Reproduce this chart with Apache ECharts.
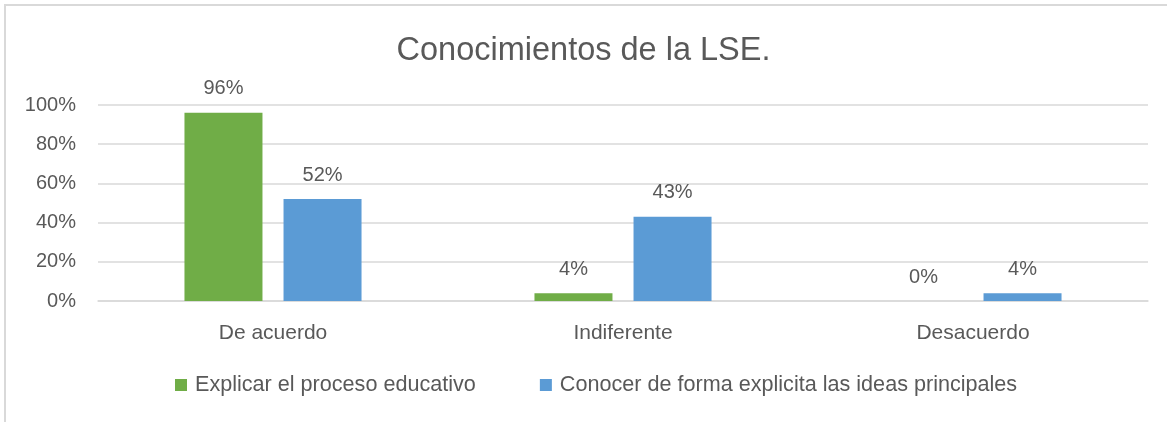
<!DOCTYPE html>
<html>
<head>
<meta charset="utf-8">
<script src="https://cdn.jsdelivr.net/npm/echarts@6/dist/echarts.min.js"></script>
<style>
  html, body { margin: 0; padding: 0; background: #fff; overflow: hidden; }
  #chart { width: 1167px; height: 422px; }
</style>
</head>
<body>
<div id="chart"></div>
<script>
var categories = ['De acuerdo', 'Indiferente', 'Desacuerdo']
var seriesNames = ['Explicar el proceso educativo', 'Conocer de forma explicita las ideas principales']
var explicar = [96, 4, 0]
var conocer = [52, 43, 4]
var yTicks = [0, 20, 40, 60, 80, 100]

var textColor = '#595959'
var fontFamily = 'Liberation Sans, Arial, sans-serif'

var chart = echarts.init(document.getElementById('chart'))

var option = {
  animation: false,
  textStyle: { fontFamily: fontFamily, color: textColor },
  title: {
    text: 'Conocimientos de la LSE.',
    left: 'center',
    top: 30,
    textStyle: { fontSize: 32.5, fontWeight: 'normal', color: textColor, fontFamily: fontFamily }
  },
  graphic: [
    {
      type: 'rect',
      shape: { x: 5, y: 5, width: 1300, height: 600 },
      style: { fill: 'none', stroke: '#d9d9d9', lineWidth: 2 },
      silent: true
    }
  ],
  legend: {
    data: seriesNames,
    top: 369,
    left: 170,
    icon: 'rect',
    itemWidth: 12,
    itemHeight: 12,
    itemGap: 64,
    textStyle: { fontSize: 21.6, color: textColor, fontFamily: fontFamily, padding: [0, 0, 0, 3] }
  },
  grid: { left: 98, right: 19, top: 105, bottom: 121 },
  xAxis: {
    type: 'category',
    data: categories,
    axisLine: { show: true, lineStyle: { color: '#d9d9d9', width: 1.5 } },
    axisTick: { show: false },
    axisLabel: { fontSize: 21, color: textColor, margin: 22, fontFamily: fontFamily }
  },
  yAxis: {
    type: 'value',
    min: yTicks[0],
    max: yTicks[yTicks.length - 1],
    interval: 20,
    axisLine: { show: false },
    axisTick: { show: false },
    splitLine: { lineStyle: { color: '#d9d9d9', width: 1.5 } },
    axisLabel: { fontSize: 20, color: textColor, margin: 22, formatter: '{value}%', fontFamily: fontFamily }
  },
  series: [
    {
      name: seriesNames[0],
      type: 'bar',
      data: explicar,
      barWidth: 78,
      barGap: '27%',
      itemStyle: { color: '#70ad47' },
      label: { show: true, position: 'top', distance: 14, fontSize: 20, color: textColor, formatter: '{c}%', fontFamily: fontFamily }
    },
    {
      name: seriesNames[1],
      type: 'bar',
      data: conocer,
      barWidth: 78,
      barGap: '27%',
      itemStyle: { color: '#5b9bd5' },
      label: { show: true, position: 'top', distance: 14, fontSize: 20, color: textColor, formatter: '{c}%', fontFamily: fontFamily }
    }
  ]
}

chart.setOption(option)
</script>
</body>
</html>
